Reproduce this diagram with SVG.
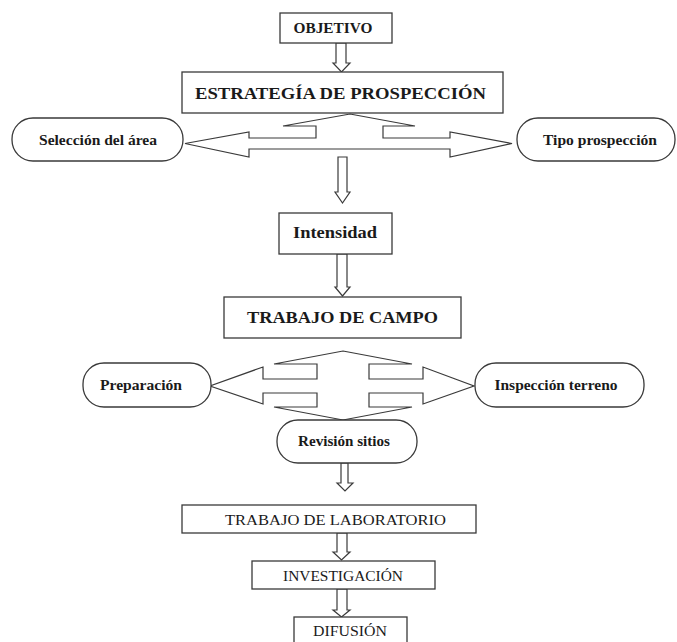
<svg xmlns="http://www.w3.org/2000/svg" width="677" height="642" viewBox="0 0 677 642">
<style>
.box{fill:#fff;stroke:#3a3a3a;stroke-width:1.3}
.pill{fill:#fff;stroke:#3a3a3a;stroke-width:1.3}
.arr{fill:#fff;stroke:#3a3a3a;stroke-width:1.2;stroke-linejoin:miter}
text{font-family:"Liberation Serif","Times New Roman",serif;fill:#1a1a1a;text-anchor:middle}
.b{font-weight:bold}
</style>
<rect width="677" height="642" fill="#fff"/>
<g id="connectors">
<polygon class="arr" points="336,43 346,43 346,63 350,63 341.5,72 333,63 336,63"/>
<polygon class="arr" points="350,114 415,126 383,126 383,138 450,138 450,132 512,143.5 450,157 450,149 249,149 249,157 185,143.5 249,132 249,138 316,138 316,126 283,126"/>
<polygon class="arr" points="338,157 347,157 347,192 350,192 342.5,203 335,192 338,192"/>
<polygon class="arr" points="337,254 347,254 347,287 350,287 342.5,296 335,287 337,287"/>
<polygon class="arr" points="343,351 412,364 369,364 369,379 423,379 423,367 474,386 423,404 423,393 369,393 369,407 412,407 343,420 274,407 317,407 317,393 263,393 263,404 210,386 263,367 263,379 317,379 317,364 274,364"/>
<polygon class="arr" points="341,463 348,463 348,483 353,483 345,491 337,483 341,483"/>
<polygon class="arr" points="337,533 347,533 347,552 350,552 341.5,560 333,552 337,552"/>
<polygon class="arr" points="337,589 347,589 347,610 350,610 341.5,617 333,610 337,610"/>
</g>
<g id="objetivo"><rect class="box" x="280" y="13" width="112" height="30"/><text class="b" x="333" y="33" font-size="14" textLength="79" lengthAdjust="spacingAndGlyphs">OBJETIVO</text></g>
<g id="estrategia"><rect class="box" x="182" y="72" width="321" height="41"/><text class="b" x="340.5" y="98.5" font-size="17" textLength="291" lengthAdjust="spacingAndGlyphs">ESTRATEGÍA DE PROSPECCIÓN</text></g>
<g id="seleccion"><rect class="pill" x="12" y="118" width="171" height="43" rx="21" ry="21"/><text class="b" x="98" y="145" font-size="14.5" textLength="118" lengthAdjust="spacingAndGlyphs">Selección del área</text></g>
<g id="tipo"><rect class="pill" x="517" y="118" width="158" height="43" rx="21" ry="21"/><text class="b" x="600" y="145" font-size="14.5" textLength="114" lengthAdjust="spacingAndGlyphs">Tipo prospección</text></g>
<g id="intensidad"><rect class="box" x="279" y="213" width="113" height="41"/><text class="b" x="335" y="238" font-size="17" textLength="84" lengthAdjust="spacingAndGlyphs">Intensidad</text></g>
<g id="campo"><rect class="box" x="224" y="297" width="237" height="41"/><text class="b" x="342.5" y="323" font-size="17.5" textLength="191" lengthAdjust="spacingAndGlyphs">TRABAJO DE CAMPO</text></g>
<g id="preparacion"><rect class="pill" x="83" y="363" width="128" height="44" rx="21" ry="21"/><text class="b" x="141" y="390" font-size="14.5" textLength="82" lengthAdjust="spacingAndGlyphs">Preparación</text></g>
<g id="inspeccion"><rect class="pill" x="475" y="363" width="169" height="44" rx="21" ry="21"/><text class="b" x="556" y="390" font-size="14.5" textLength="123" lengthAdjust="spacingAndGlyphs">Inspección terreno</text></g>
<g id="revision"><rect class="pill" x="277" y="420" width="140" height="43" rx="21" ry="21"/><text class="b" x="344" y="446" font-size="14.5" textLength="92" lengthAdjust="spacingAndGlyphs">Revisión sitios</text></g>
<g id="laboratorio"><rect class="box" x="182" y="505" width="294" height="28"/><text x="335.5" y="525" font-size="15" textLength="221" lengthAdjust="spacingAndGlyphs">TRABAJO DE LABORATORIO</text></g>
<g id="investigacion"><rect class="box" x="252" y="561" width="183" height="28"/><text x="343" y="581" font-size="14" textLength="120" lengthAdjust="spacingAndGlyphs">INVESTIGACIÓN</text></g>
<g id="difusion"><rect class="box" x="294" y="617" width="113" height="30"/><text x="350" y="636" font-size="14.5" textLength="74" lengthAdjust="spacingAndGlyphs">DIFUSIÓN</text></g>
</svg>
